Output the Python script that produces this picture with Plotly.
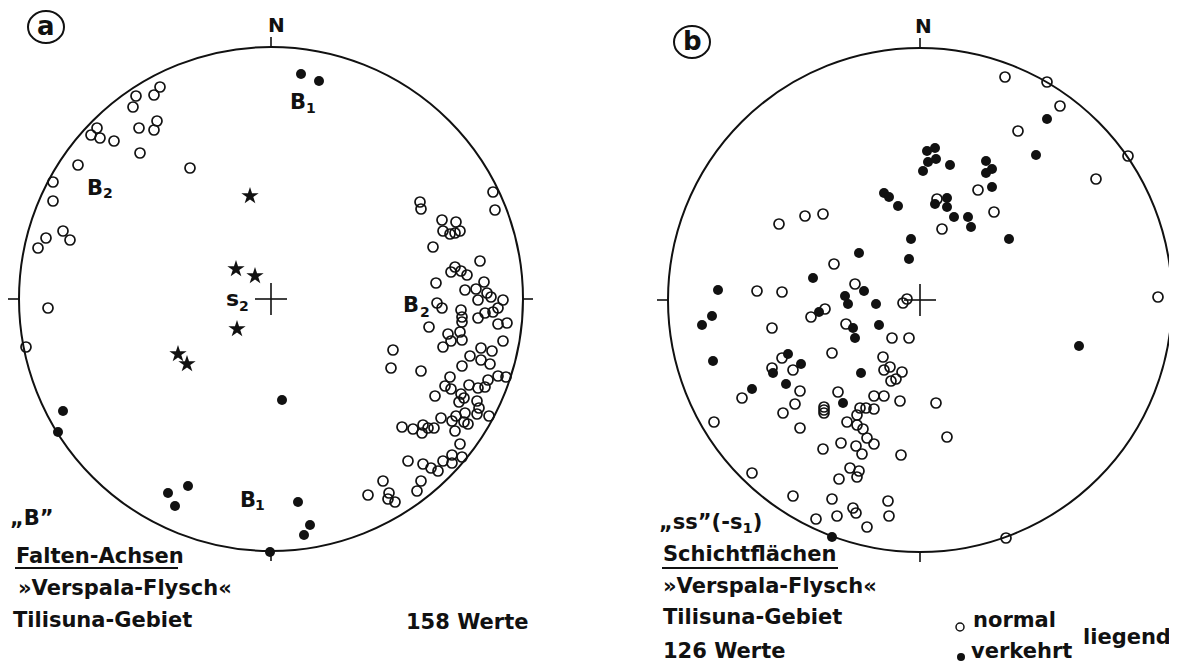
import plotly.graph_objects as go

W, H = 1177, 664
PAGE_MARGIN = 8             # default body margin of the html page
R = 252                     # net radius (projection units)
CA = (271, 299)             # centre of net (a)
CB = (920, 300)             # centre of net (b)

# ---- data: projected positions (east, north) measured from the net centre ----
# (a) "B" Falten-Achsen
A_OPEN = [(-111, 212), (-135, 203), (-117, 204), (-138, 192), (-114, 178), (-132, 171),
          (-117, 169), (-174, 171), (-180, 164), (-171, 161), (-157, 158), (-131, 146),
          (-81, 131), (-193, 134), (-218, 117), (-218, 98), (-208, 68), (-225, 61),
          (-201, 59), (-233, 51), (-223, -9), (-245, -48),
          (222, 107), (224, 89), (149, 97), (150, 90), (171, 79), (185, 77), (172, 68),
          (179, 65), (184, 66), (189, 68), (162, 52), (209, 38), (184, 32), (180, 27),
          (190, 28), (196, 24), (165, 16), (213, 17), (194, 9), (205, 10), (216, 6),
          (220, 2), (232, -1), (207, -1), (166, -4), (171, -9), (190, -11), (191, -18),
          (191, -23), (207, -19), (214, -14), (222, -13), (227, -9), (227, -25),
          (236, -24), (158, -28), (177, -35), (180, -42), (172, -48), (189, -33),
          (191, -41), (232, -42), (122, -51), (210, -49), (221, -52), (199, -57),
          (210, -61), (219, -65), (191, -67), (120, -69), (150, -72), (179, -78),
          (174, -87), (180, -90), (198, -86), (207, -89), (214, -88), (217, -81),
          (227, -77), (235, -78), (164, -97), (190, -95), (193, -99), (188, -103),
          (206, -102), (208, -109), (206, -115), (218, -117), (194, -114), (185, -117),
          (181, -122), (193, -123), (197, -125), (170, -119), (184, -132), (131, -128),
          (142, -130), (152, -126), (151, -134), (157, -129), (163, -129), (189, -145),
          (137, -162), (152, -165), (160, -169), (167, -172), (172, -162), (181, -156),
          (181, -164), (191, -158), (112, -182), (150, -182), (146, -192), (97, -196),
          (118, -194), (117, -200), (124, -203)]
A_FILLED = [(30, 225), (48, 218), (11, -101), (-208, -112), (-213, -133), (-103, -194),
            (-83, -187), (-96, -207), (27, -203), (39, -226), (33, -236), (-1, -253)]
A_STAR = [(-21, 103), (-35, 30), (-16, 23), (-34, -30), (-93, -55), (-84, -65)]

# (b) "ss" Schichtflächen: normal / verkehrt liegend
B_OPEN = [(85, 223), (140, 194), (98, 169), (176, 121), (58, 110), (17, 101), (74, 88),
          (22, 71), (-141, 76), (-115, 84), (-97, 86), (-86, 36), (-163, 9), (-138, 8),
          (-65, 16), (-13, 1), (-17, -3), (238, 3), (-95, -9), (-109, -17), (-148, -28),
          (-74, -24), (-28, -38), (-11, -38), (-88, -53), (-138, -58), (-148, -68),
          (-127, -70), (-178, -98), (-120, -91), (-37, -57), (-30, -67), (-36, -70),
          (-18, -72), (-24, -79), (-29, -81), (-82, -92), (-46, -96), (-36, -96),
          (-20, -101), (16, -103), (-125, -104), (-137, -113), (-96, -107), (-96, -110),
          (-96, -113), (-60, -108), (-54, -108), (-46, -109), (-63, -115), (-73, -122),
          (-63, -125), (-57, -129), (-206, -122), (-120, -128), (-53, -138), (-46, -144),
          (27, -137), (-79, -143), (-64, -146), (-58, -154), (-97, -149), (-19, -155),
          (-70, -168), (-61, -171), (-63, -177), (-81, -179), (-168, -173), (-127, -196),
          (-88, -199), (-32, -201), (-67, -208), (-64, -213), (-83, -216), (-31, -216),
          (-104, -219), (-53, -227), (86, -238), (127, 218), (208, 144)]
B_FILLED = [(7, 149), (15, 152), (8, 138), (16, 141), (3, 129), (30, 135), (66, 139),
            (72, 131), (66, 127), (72, 113), (-36, 107), (-31, 103), (-22, 94), (15, 96),
            (27, 102), (27, 93), (34, 83), (48, 83), (51, 73), (89, 61), (-9, 61),
            (-11, 41), (-61, 47), (-107, 22), (127, 181), (116, 145), (-202, 10),
            (-56, 9), (-75, 4), (-72, -4), (-44, -4), (-101, -12), (-208, -16),
            (-218, -25), (-67, -28), (-65, -38), (-41, -25), (-207, -61), (-132, -54),
            (-119, -64), (-147, -73), (-134, -84), (-168, -89), (-59, -73), (-77, -103),
            (159, -46), (-88, -237)]

FONT = "DejaVu Sans"
BLACK = "#111111"


def place(c, pts):
    return [c[0] + e for e, n in pts], [c[1] - n for e, n in pts]


fig = go.Figure()


def add_pts(c, pts, symbol, size, lw=1.7):
    xs, ys = place(c, pts)
    fig.add_trace(go.Scatter(x=xs, y=ys, mode="markers", hoverinfo="skip", cliponaxis=False,
                             marker=dict(symbol=symbol, size=size, color=BLACK,
                                         line=dict(width=lw, color=BLACK))))


add_pts(CA, A_OPEN, "circle-open", 10)
add_pts(CA, A_FILLED, "circle", 10, 0)
add_pts(CA, A_STAR, "star", 13, 0)
add_pts(CB, B_OPEN, "circle-open", 10)
add_pts(CB, B_FILLED, "circle", 10, 0)

# legend glyphs for (b)
fig.add_trace(go.Scatter(x=[960], y=[627], mode="markers", hoverinfo="skip",
                         marker=dict(symbol="circle-open", size=8, color=BLACK,
                                     line=dict(width=1.5, color=BLACK))))
fig.add_trace(go.Scatter(x=[961], y=[657], mode="markers", hoverinfo="skip",
                         marker=dict(symbol="circle", size=8, color=BLACK)))

shapes = []
for c in (CA, CB):
    cx, cy = c
    shapes.append(dict(type="circle", xref="x", yref="y", x0=cx - R, x1=cx + R,
                       y0=cy - R, y1=cy + R, line=dict(color=BLACK, width=2)))
    for x0, y0, x1, y1 in [(cx, cy - R - 10, cx, cy - R), (cx, cy + R, cx, cy + R + 10),
                           (cx - R - 11, cy, cx - R, cy), (cx + R, cy, cx + R + 10, cy),
                           (cx - 16, cy, cx + 16, cy), (cx, cy - 16, cx, cy + 16)]:
        shapes.append(dict(type="line", xref="x", yref="y", x0=x0, y0=y0, x1=x1, y1=y1,
                           line=dict(color=BLACK, width=1.6)))
# circled panel letters
for (lx, ly) in [(46, 27), (692, 42)]:
    shapes.append(dict(type="circle", xref="x", yref="y", x0=lx - 18, x1=lx + 18,
                       y0=ly - 16, y1=ly + 16, line=dict(color=BLACK, width=2)))
# underlines
shapes.append(dict(type="line", xref="x", yref="y", x0=15, x1=178, y0=568, y1=568,
                   line=dict(color=BLACK, width=2)))
shapes.append(dict(type="line", xref="x", yref="y", x0=662, x1=838, y0=568, y1=568,
                   line=dict(color=BLACK, width=2)))

ann = []


def txt(x, y, s, size=21, xanchor="center"):
    ann.append(dict(x=x, y=y, xref="x", yref="y", text="<b>%s</b>" % s, showarrow=False,
                    xanchor=xanchor, yanchor="middle",
                    font=dict(family=FONT, size=size, color=BLACK)))


txt(46, 26, "a", 26)
txt(692, 41, "b", 26)
txt(276, 25, "N", 20)
txt(923, 26, "N", 20)
# labels net (a)
txt(298, 102, "B", 21); txt(311, 108, "1", 14)
txt(95, 188, "B", 21); txt(108, 193, "2", 14)
txt(232, 298, "s", 22); txt(244, 306, "2", 14)
txt(248, 500, "B", 21); txt(260, 505, "1", 14)
txt(411, 305, "B", 21); txt(425, 312, "2", 14)
# text block (a)
txt(8, 518, "„B”", 21, "left")
txt(14, 556, "Falten-Achsen", 21, "left")
txt(16, 588, "»Verspala-Flysch«", 21, "left")
txt(11, 620, "Tilisuna-Gebiet", 21, "left")
txt(404, 622, "158 Werte", 21, "left")
# text block (b)
ann.append(dict(x=657, y=523, xref="x", yref="y", showarrow=False, xanchor="left",
                yanchor="middle", text="<b>„ss”(-s<sub>1</sub>)</b>",
                font=dict(family=FONT, size=21, color=BLACK)))
txt(661, 554, "Schichtflächen", 21, "left")
txt(661, 586, "»Verspala-Flysch«", 21, "left")
txt(661, 617, "Tilisuna-Gebiet", 21, "left")
txt(661, 651, "126 Werte", 21, "left")
txt(971, 620, "normal", 21, "left")
txt(969, 651, "verkehrt", 21, "left")
txt(1081, 637, "liegend", 21, "left")

# the page body has an 8px margin: offset the axis ranges so that the
# visible window shows exactly the 1177x664 frame of the reference
fig.update_layout(
    width=W, height=H, margin=dict(l=0, r=0, t=0, b=0),
    paper_bgcolor="white", plot_bgcolor="white", showlegend=False,
    xaxis=dict(range=[PAGE_MARGIN, W + PAGE_MARGIN], visible=False, fixedrange=True),
    yaxis=dict(range=[H + PAGE_MARGIN, PAGE_MARGIN], visible=False, fixedrange=True),
    shapes=shapes, annotations=ann,
)
fig.write_html("out.html")
